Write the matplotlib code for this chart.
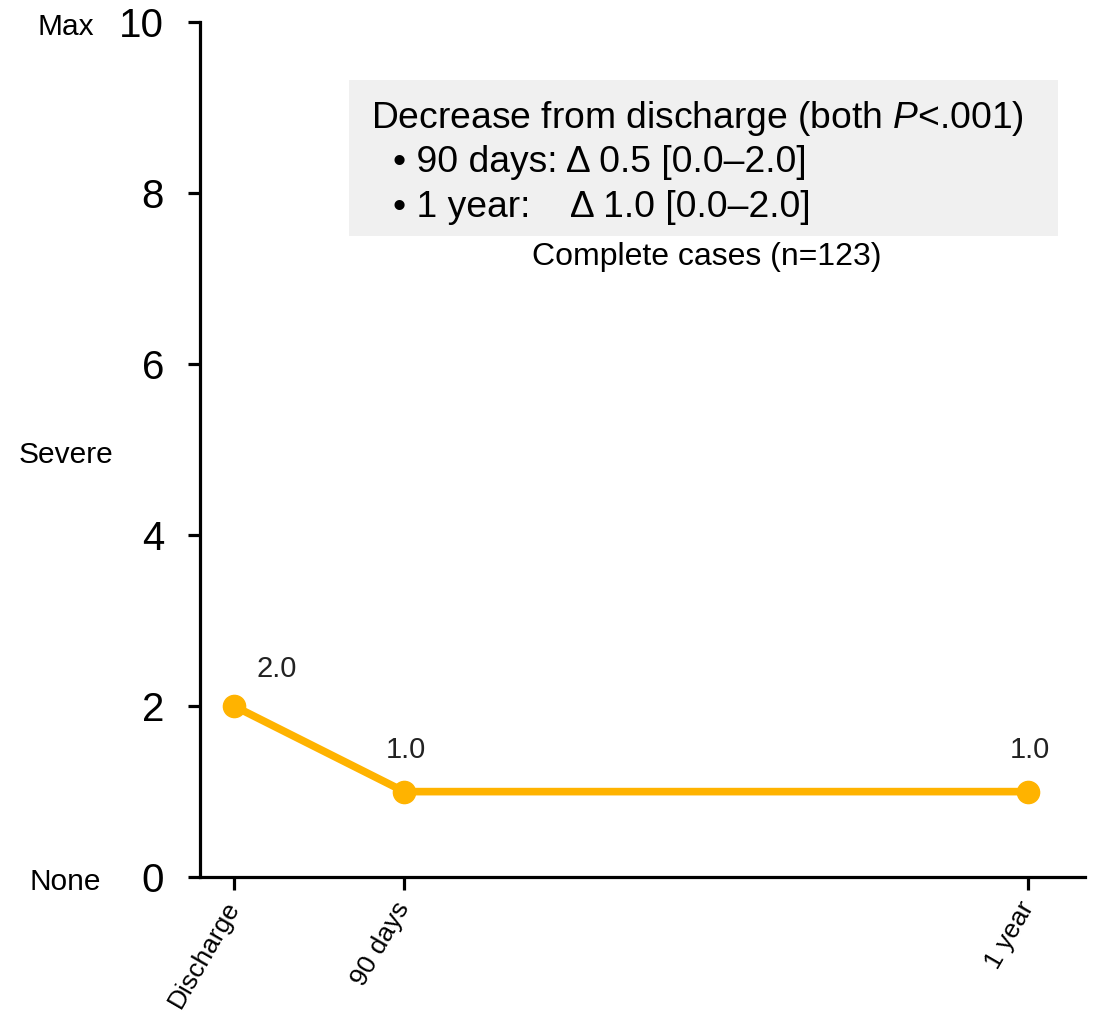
import matplotlib
matplotlib.use("Agg")
import matplotlib.pyplot as plt
from matplotlib.patches import Rectangle

plt.rcParams["font.family"] = ["Liberation Sans", "DejaVu Sans"]
plt.rcParams["mathtext.fontset"] = "custom"
plt.rcParams["mathtext.rm"] = "Liberation Sans"
plt.rcParams["mathtext.it"] = "Liberation Sans:italic"

# Follow-up time points (days after admission) and median scores
timepoints = ["Discharge", "90 days", "1 year"]
days = [15, 90, 365]
median_score = [2.0, 1.0, 1.0]
value_labels = ["2.0", "1.0", "1.0"]

y_ticks = [0, 2, 4, 6, 8, 10]
severity_labels = {10: "Max", 5: "Severe", 0: "None"}

summary_title = "Decrease from discharge (both $\\mathit{P}$<.001)"
summary_lines = ["\u2022 90 days: \u0394 0.5 [0.0\u20132.0]",
                 "\u2022 1 year:    \u0394 1.0 [0.0\u20132.0]"]
cohort_note = "Complete cases (n=123)"

line_color = "#FFB300"

fig = plt.figure(figsize=(11.07, 10.14), dpi=100)
ax = fig.add_axes([0.1807, 0.135, 0.7995, 0.843])

ax.plot(days, median_score, color=line_color, lw=5.5, marker="o",
        ms=16, solid_capstyle="butt", zorder=3, clip_on=False)

label_offsets = [(31, 27), (1, 30), (1, 30)]
for x, y, txt, off in zip(days, median_score, value_labels, label_offsets):
    ax.annotate(txt, (x, y), xytext=off, textcoords="offset points",
                ha="center", va="center", fontsize=21, color="#222222")

ax.set_xlim(0, 390)
ax.set_ylim(0, 10)
ax.set_yticks(y_ticks)
ax.set_yticklabels([str(t) for t in y_ticks], fontsize=29)
ax.set_xticks(days)
ax.set_xticklabels(timepoints, fontsize=19, rotation=60, ha="right",
                   va="center", rotation_mode="anchor")

for side in ("top", "right"):
    ax.spines[side].set_visible(False)
for side in ("left", "bottom"):
    ax.spines[side].set_linewidth(2.3)
ax.tick_params(axis="both", length=9, width=2.3, color="black")
ax.tick_params(axis="y", pad=17)
ax.tick_params(axis="x", pad=10)

# Verbal anchors for the score scale
for val, name in severity_labels.items():
    ax.text(-0.152, val / 10 - 0.006, name, transform=ax.transAxes,
            ha="center", va="center", fontsize=21.5)

# Summary box
ax.add_patch(Rectangle((0.1684, 0.7497), 0.8011, 0.1823,
                       transform=ax.transAxes, facecolor="#F0F0F0",
                       edgecolor="none", zorder=1))
ax.text(0.1932, 0.888, summary_title, transform=ax.transAxes,
        ha="left", va="center", fontsize=26.8, zorder=2)
ax.text(0.2181, 0.836, summary_lines[0], transform=ax.transAxes,
        ha="left", va="center", fontsize=26.8, zorder=2)
ax.text(0.2181, 0.783, summary_lines[1], transform=ax.transAxes,
        ha="left", va="center", fontsize=26.8, zorder=2)
ax.text(0.572, 0.726, cohort_note, transform=ax.transAxes,
        ha="center", va="center", fontsize=23, zorder=2)

fig.savefig("out.png", dpi=100)
